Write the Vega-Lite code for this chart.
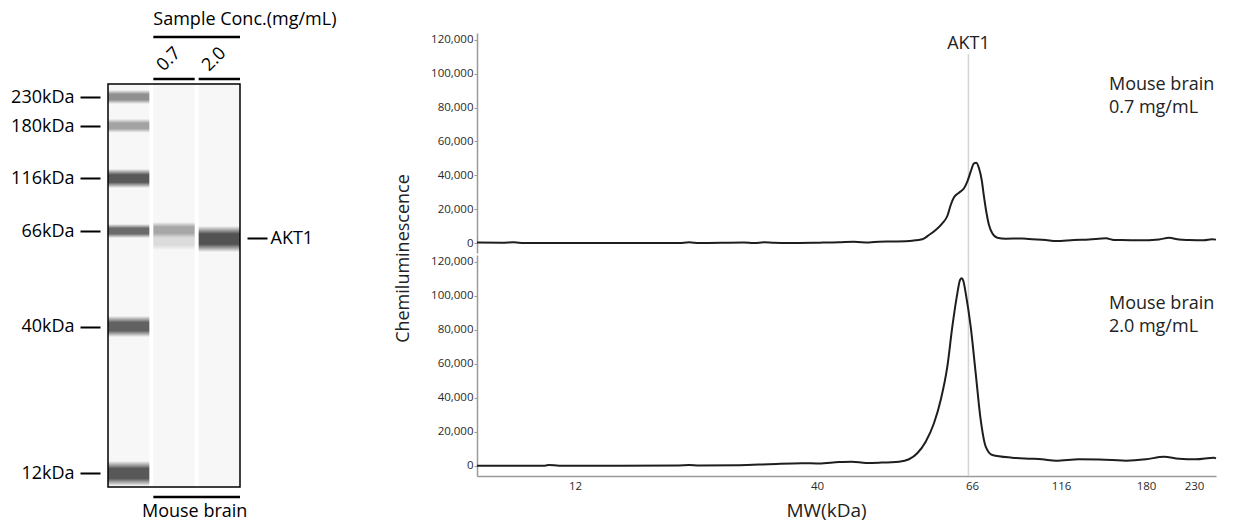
{
  "$schema": "https://vega.github.io/schema/vega-lite/v6.json",
  "background": "white",
  "padding": {"left": 10, "top": 11, "right": 10, "bottom": 0},
  "config": {
    "view": {"stroke": null},
    "font": "Open Sans",
    "text": {"font": "Open Sans"},
    "axis": {"labelFont": "Open Sans", "titleFont": "Open Sans", "titleFontWeight": "normal", "grid": false}
  },
  "datasets": {
    "lanes": [
      {"lane": "Ladder"},
      {"lane": "0.7"},
      {"lane": "2.0"}
    ],
    "bands": [
      {"lane": "Ladder", "mw_hi": 242.1, "mw_lo": 217.9, "intensity": 0.55},
      {"lane": "Ladder", "mw_hi": 192.4, "mw_lo": 171.7, "intensity": 0.45},
      {"lane": "Ladder", "mw_hi": 127.4, "mw_lo": 106.8, "intensity": 0.85},
      {"lane": "Ladder", "mw_hi": 72.6, "mw_lo": 64.1, "intensity": 0.75},
      {"lane": "Ladder", "mw_hi": 42.86, "mw_lo": 37.99, "intensity": 0.8},
      {"lane": "Ladder", "mw_hi": 14.29, "mw_lo": 9.52, "intensity": 0.85},
      {"lane": "0.7", "mw_hi": 74.5, "mw_lo": 64.1, "intensity": 0.43},
      {"lane": "0.7", "mw_hi": 65.46, "mw_lo": 60.83, "intensity": 0.15},
      {"lane": "2.0", "mw_hi": 70.7, "mw_lo": 60.28, "intensity": 0.88}
    ],
    "marker": [{"target": "AKT1", "mw": 65.4}],
    "top": [
      {"mw": 0.66, "signal": 300}, {"mw": 3.55, "signal": 200}, {"mw": 4.94, "signal": 400},
      {"mw": 6.1, "signal": 0}, {"mw": 10.15, "signal": 0}, {"mw": 14.78, "signal": 0},
      {"mw": 19.4, "signal": 0}, {"mw": 24.03, "signal": 0}, {"mw": 25.19, "signal": 400},
      {"mw": 26.35, "signal": 0}, {"mw": 31.55, "signal": 300}, {"mw": 32.71, "signal": 0},
      {"mw": 33.87, "signal": 400}, {"mw": 35.02, "signal": 100}, {"mw": 36.76, "signal": 0},
      {"mw": 40.34, "signal": 200}, {"mw": 43.69, "signal": 400}, {"mw": 46.21, "signal": 700},
      {"mw": 48.72, "signal": 300}, {"mw": 50.4, "signal": 770}, {"mw": 52.92, "signal": 900},
      {"mw": 55.99, "signal": 1360}, {"mw": 57.66, "signal": 2190}, {"mw": 58.79, "signal": 4730},
      {"mw": 59.91, "signal": 7680}, {"mw": 61.02, "signal": 11640}, {"mw": 61.86, "signal": 15960},
      {"mw": 62.43, "signal": 22460}, {"mw": 62.98, "signal": 27010}, {"mw": 63.82, "signal": 29730},
      {"mw": 64.66, "signal": 32330}, {"mw": 65.21, "signal": 36230}, {"mw": 65.78, "signal": 42140},
      {"mw": 67.12, "signal": 47100}, {"mw": 68.42, "signal": 47460}, {"mw": 69.93, "signal": 44150},
      {"mw": 71.45, "signal": 37230}, {"mw": 72.74, "signal": 27360}, {"mw": 74.03, "signal": 18500},
      {"mw": 75.55, "signal": 10640}, {"mw": 77.4, "signal": 5730}, {"mw": 80.21, "signal": 3130},
      {"mw": 84.93, "signal": 2540}, {"mw": 94.09, "signal": 2700}, {"mw": 98.02, "signal": 2360},
      {"mw": 107.4, "signal": 1770}, {"mw": 113.19, "signal": 1200}, {"mw": 125.79, "signal": 1800},
      {"mw": 137.08, "signal": 2100}, {"mw": 149.88, "signal": 2800}, {"mw": 155.91, "signal": 1800},
      {"mw": 161.93, "signal": 1800}, {"mw": 174.73, "signal": 1600}, {"mw": 193.54, "signal": 2100},
      {"mw": 203.96, "signal": 3100}, {"mw": 214.38, "signal": 2100}, {"mw": 224.79, "signal": 1800},
      {"mw": 240.42, "signal": 1600}, {"mw": 248.75, "signal": 2200}, {"mw": 252.9, "signal": 2000}
    ],
    "bottom": [
      {"mw": 0.66, "signal": 180}, {"mw": 5.52, "signal": 180}, {"mw": 8.53, "signal": 180},
      {"mw": 8.99, "signal": 590}, {"mw": 10.15, "signal": 180}, {"mw": 17.09, "signal": 200},
      {"mw": 24.03, "signal": 300}, {"mw": 25.19, "signal": 500}, {"mw": 26.35, "signal": 300},
      {"mw": 30.97, "signal": 470}, {"mw": 34.45, "signal": 1000}, {"mw": 38.26, "signal": 1590},
      {"mw": 40.34, "signal": 1500}, {"mw": 43.69, "signal": 2300}, {"mw": 45.87, "signal": 2530},
      {"mw": 48.22, "signal": 1800}, {"mw": 50.4, "signal": 1940}, {"mw": 53.75, "signal": 2530},
      {"mw": 55.43, "signal": 3940}, {"mw": 56.82, "signal": 7470}, {"mw": 58.23, "signal": 14290},
      {"mw": 59.62, "signal": 25110}, {"mw": 60.75, "signal": 38810}, {"mw": 61.86, "signal": 58390},
      {"mw": 62.7, "signal": 81910}, {"mw": 63.54, "signal": 101550}, {"mw": 63.99, "signal": 109370},
      {"mw": 64.28, "signal": 110370}, {"mw": 64.54, "signal": 108960}, {"mw": 64.95, "signal": 101550},
      {"mw": 65.78, "signal": 81910}, {"mw": 68.08, "signal": 54510}, {"mw": 70.89, "signal": 27050},
      {"mw": 73.7, "signal": 11350}, {"mw": 77.4, "signal": 6470}, {"mw": 88.47, "signal": 4880},
      {"mw": 98.02, "signal": 4300}, {"mw": 105.32, "signal": 3940}, {"mw": 113.19, "signal": 3100},
      {"mw": 129.55, "signal": 3940}, {"mw": 144.61, "signal": 3800}, {"mw": 154.4, "signal": 3530},
      {"mw": 164.94, "signal": 3100}, {"mw": 180.0, "signal": 3900}, {"mw": 198.75, "signal": 5470},
      {"mw": 214.38, "signal": 4200}, {"mw": 232.08, "signal": 3900}, {"mw": 250.83, "signal": 4880},
      {"mw": 252.9, "signal": 4500}
    ]
  },
  "spacing": 57,
  "hconcat": [
    {
      "width": 132,
      "height": 443,
      "layer": [
        {
          "data": {"name": "lanes"},
          "mark": {"type": "rect", "fill": "#f7f7f7"},
          "encoding": {
            "x": {"field": "lane", "type": "nominal", "scale": {"domain": ["Ladder", "0.7", "2.0"], "paddingInner": 0.088, "paddingOuter": 0}, "axis": null},
            "y": {"datum": 252.4, "type": "quantitative", "scale": {"domain": [230, 180, 116, 66, 40, 12], "range": [64, 93, 145.3, 198, 293.5, 440], "nice": false, "zero": false}, "axis": null},
            "y2": {"datum": 9.32}
          }
        },
        {
          "data": {"name": "bands"},
          "mark": {
            "type": "rect",
            "fill": {
              "gradient": "linear", "x1": 0, "y1": 0, "x2": 0, "y2": 1,
              "stops": [
                {"offset": 0, "color": "rgba(60,60,60,0)"},
                {"offset": 0.3, "color": "rgba(60,60,60,1)"},
                {"offset": 0.7, "color": "rgba(60,60,60,1)"},
                {"offset": 1, "color": "rgba(60,60,60,0)"}
              ]
            }
          },
          "encoding": {
            "x": {"field": "lane", "type": "nominal", "scale": {"domain": ["Ladder", "0.7", "2.0"], "paddingInner": 0.088, "paddingOuter": 0}, "axis": null},
            "y": {
              "field": "mw_hi", "type": "quantitative",
              "scale": {"domain": [230, 180, 116, 66, 40, 12], "range": [64, 93, 145.3, 198, 293.5, 440], "nice": false, "zero": false},
              "axis": {"orient": "right", "values": [64], "labelExpr": "'AKT1'", "title": null, "domain": false, "tickSize": 20, "tickWidth": 2, "tickColor": "black", "offset": 7, "labelPadding": 3, "labelFontSize": 18, "labelColor": "black", "labelBaseline": "middle"}
            },
            "y2": {"field": "mw_lo"},
            "opacity": {"field": "intensity", "type": "quantitative", "scale": null, "legend": null}
          }
        },
        {
          "data": {"values": [{"gel": "capillary"}]},
          "mark": {"type": "rect", "fill": null, "fillOpacity": 0, "stroke": "black", "strokeWidth": 1.5},
          "encoding": {
            "y": {
              "datum": 252.4, "type": "quantitative",
              "axis": {"orient": "left", "values": [230, 180, 116, 66, 40, 12], "labelExpr": "datum.value + 'kDa'", "title": null, "domain": false, "tickSize": 20, "tickWidth": 2, "tickColor": "black", "offset": 8, "labelPadding": 6, "labelFontSize": 18, "labelColor": "black", "labelBaseline": "middle", "labelOverlap": false}
            },
            "y2": {"datum": 9.32}
          }
        },
        {
          "data": {"name": "lanes"},
          "transform": [{"filter": "datum.lane !== 'Ladder'"}],
          "mark": {"type": "text", "angle": 315, "align": "left", "baseline": "alphabetic", "fontSize": 18, "color": "black"},
          "encoding": {
            "x": {"field": "lane", "type": "nominal", "bandPosition": 0.25, "axis": null},
            "y": {"datum": 273, "type": "quantitative", "axis": null},
            "text": {"field": "lane"}
          }
        },
        {
          "data": {"name": "lanes"},
          "transform": [{"filter": "datum.lane !== 'Ladder'"}],
          "mark": {"type": "rect", "filled": false, "color": "black", "strokeWidth": 2.5},
          "encoding": {
            "x": {"field": "lane", "type": "nominal", "axis": null},
            "y": {"datum": 261, "type": "quantitative", "axis": null},
            "y2": {"datum": 261}
          }
        },
        {
          "data": {"values": [{"header": "Sample Conc.(mg/mL)"}]},
          "mark": {"type": "rule", "color": "black", "strokeWidth": 2.5},
          "encoding": {
            "x": {"datum": "0.7", "type": "nominal", "bandPosition": 0, "axis": null},
            "x2": {"datum": "2.0", "bandPosition": 1},
            "y": {"datum": 333.4, "type": "quantitative", "axis": null}
          }
        },
        {
          "data": {"values": [{"header": "Sample Conc.(mg/mL)"}]},
          "mark": {"type": "text", "align": "left", "baseline": "alphabetic", "fontSize": 18, "color": "black"},
          "encoding": {
            "x": {"datum": "0.7", "type": "nominal", "bandPosition": 0, "axis": null},
            "y": {"datum": 354.1, "type": "quantitative", "axis": null},
            "text": {"field": "header"}
          }
        },
        {
          "data": {"values": [{"sample": "Mouse brain"}]},
          "mark": {"type": "rule", "color": "black", "strokeWidth": 2.5},
          "encoding": {
            "x": {"datum": "0.7", "type": "nominal", "bandPosition": 0, "axis": null},
            "x2": {"datum": "2.0", "bandPosition": 1},
            "y": {"datum": 7.41, "type": "quantitative", "axis": null}
          }
        },
        {
          "data": {"values": [{"sample": "Mouse brain"}]},
          "mark": {"type": "text", "align": "center", "baseline": "alphabetic", "fontSize": 18, "color": "black"},
          "encoding": {
            "x": {"datum": "0.7", "type": "nominal", "bandPosition": 1, "axis": null},
            "y": {"datum": 3.59, "type": "quantitative", "axis": null},
            "text": {"field": "sample"}
          }
        }
      ],
      "resolve": {"axis": {"y": "independent"}}
    },
    {
      "width": 739,
      "height": 443,
      "layer": [
        {
          "data": {"name": "marker"},
          "mark": {"type": "rule", "color": "#d4d4d4", "strokeWidth": 1.5},
          "encoding": {
            "x": {"field": "mw", "type": "quantitative", "axis": null},
            "y": {"datum": 111700, "type": "quantitative", "scale": {"domain": [-5900, 124100], "range": [220, 0], "nice": false, "zero": false}, "axis": null},
            "y2": {"datum": -7500}
          }
        },
        {
          "data": {"name": "marker"},
          "mark": {"type": "rule", "color": "#d4d4d4", "strokeWidth": 1.5},
          "encoding": {
            "x": {"field": "mw", "type": "quantitative", "axis": null},
            "y": {"datum": 124100, "type": "quantitative", "scale": {"domain": [-5900, 124100], "range": [443, 222], "nice": false, "zero": false}, "axis": null},
            "y2": {"datum": -5900}
          }
        },
        {
          "data": {"name": "top"},
          "mark": {"type": "line", "color": "#1e1e1e", "strokeWidth": 2, "interpolate": "monotone"},
          "encoding": {
            "x": {"field": "mw", "type": "quantitative", "scale": {"domain": [0.66, 12, 40, 66, 116, 180, 230, 252.92], "range": [0, 98, 340, 495, 584, 669, 717, 739], "nice": false, "zero": false}, "axis": null},
            "y": {
              "field": "signal", "type": "quantitative",
              "scale": {"domain": [-5900, 124100], "range": [220, 0], "nice": false, "zero": false},
              "axis": {"orient": "left", "values": [0, 20000, 40000, 60000, 80000, 100000, 120000], "format": ",d", "title": null, "tickSize": 3, "tickColor": "#999999", "domainColor": "#9a9a9a", "domainWidth": 1.5, "labelFontSize": 11.5, "labelColor": "#2a2a2a", "labelPadding": 1, "labelOverlap": false}
            }
          }
        },
        {
          "data": {"name": "bottom"},
          "mark": {"type": "line", "color": "#1e1e1e", "strokeWidth": 2, "interpolate": "monotone"},
          "encoding": {
            "x": {
              "field": "mw", "type": "quantitative",
              "scale": {"domain": [0.66, 12, 40, 66, 116, 180, 230, 252.92], "range": [0, 98, 340, 495, 584, 669, 717, 739], "nice": false, "zero": false},
              "axis": {"values": [12, 40, 66, 116, 180, 230], "format": "d", "ticks": false, "domainColor": "#9a9a9a", "domainWidth": 1.5, "labelFontSize": 11.5, "labelColor": "#2a2a2a", "labelPadding": 4, "labelOverlap": false, "labelFlush": false, "title": "MW(kDa)", "titleFontSize": 19, "titleColor": "#222222", "titlePadding": 10, "titleX": 349}
            },
            "y": {
              "field": "signal", "type": "quantitative",
              "scale": {"domain": [-5900, 124100], "range": [443, 222], "nice": false, "zero": false},
              "axis": {"orient": "left", "values": [0, 20000, 40000, 60000, 80000, 100000, 120000], "format": ",d", "title": "Chemiluminescence", "titleFontSize": 18, "titleColor": "#222222", "titlePadding": 18, "titleY": 225, "tickSize": 3, "tickColor": "#999999", "domainColor": "#9a9a9a", "domainWidth": 1.5, "labelFontSize": 11.5, "labelColor": "#2a2a2a", "labelPadding": 1, "labelOverlap": false}
            }
          }
        },
        {
          "data": {"name": "marker"},
          "mark": {"type": "text", "align": "center", "baseline": "alphabetic", "fontSize": 18, "color": "#222222"},
          "encoding": {
            "x": {"field": "mw", "type": "quantitative", "axis": null},
            "y": {"datum": 114650, "type": "quantitative", "scale": {"domain": [-5900, 124100], "range": [220, 0], "nice": false, "zero": false}, "axis": null},
            "text": {"field": "target"}
          }
        },
        {
          "data": {"values": [{"label": ["Mouse brain", "0.7 mg/mL"]}]},
          "mark": {"type": "text", "align": "left", "baseline": "alphabetic", "fontSize": 18, "lineHeight": 23, "color": "#222222"},
          "encoding": {
            "x": {"datum": 152.1, "type": "quantitative", "axis": null},
            "y": {"datum": 90400, "type": "quantitative", "scale": {"domain": [-5900, 124100], "range": [220, 0], "nice": false, "zero": false}, "axis": null},
            "text": {"field": "label"}
          }
        },
        {
          "data": {"values": [{"label": ["Mouse brain", "2.0 mg/mL"]}]},
          "mark": {"type": "text", "align": "left", "baseline": "alphabetic", "fontSize": 18, "lineHeight": 23, "color": "#222222"},
          "encoding": {
            "x": {"datum": 152.1, "type": "quantitative", "axis": null},
            "y": {"datum": 92300, "type": "quantitative", "scale": {"domain": [-5900, 124100], "range": [443, 222], "nice": false, "zero": false}, "axis": null},
            "text": {"field": "label"}
          }
        }
      ],
      "resolve": {"scale": {"y": "independent"}, "axis": {"x": "independent", "y": "independent"}}
    }
  ]
}
